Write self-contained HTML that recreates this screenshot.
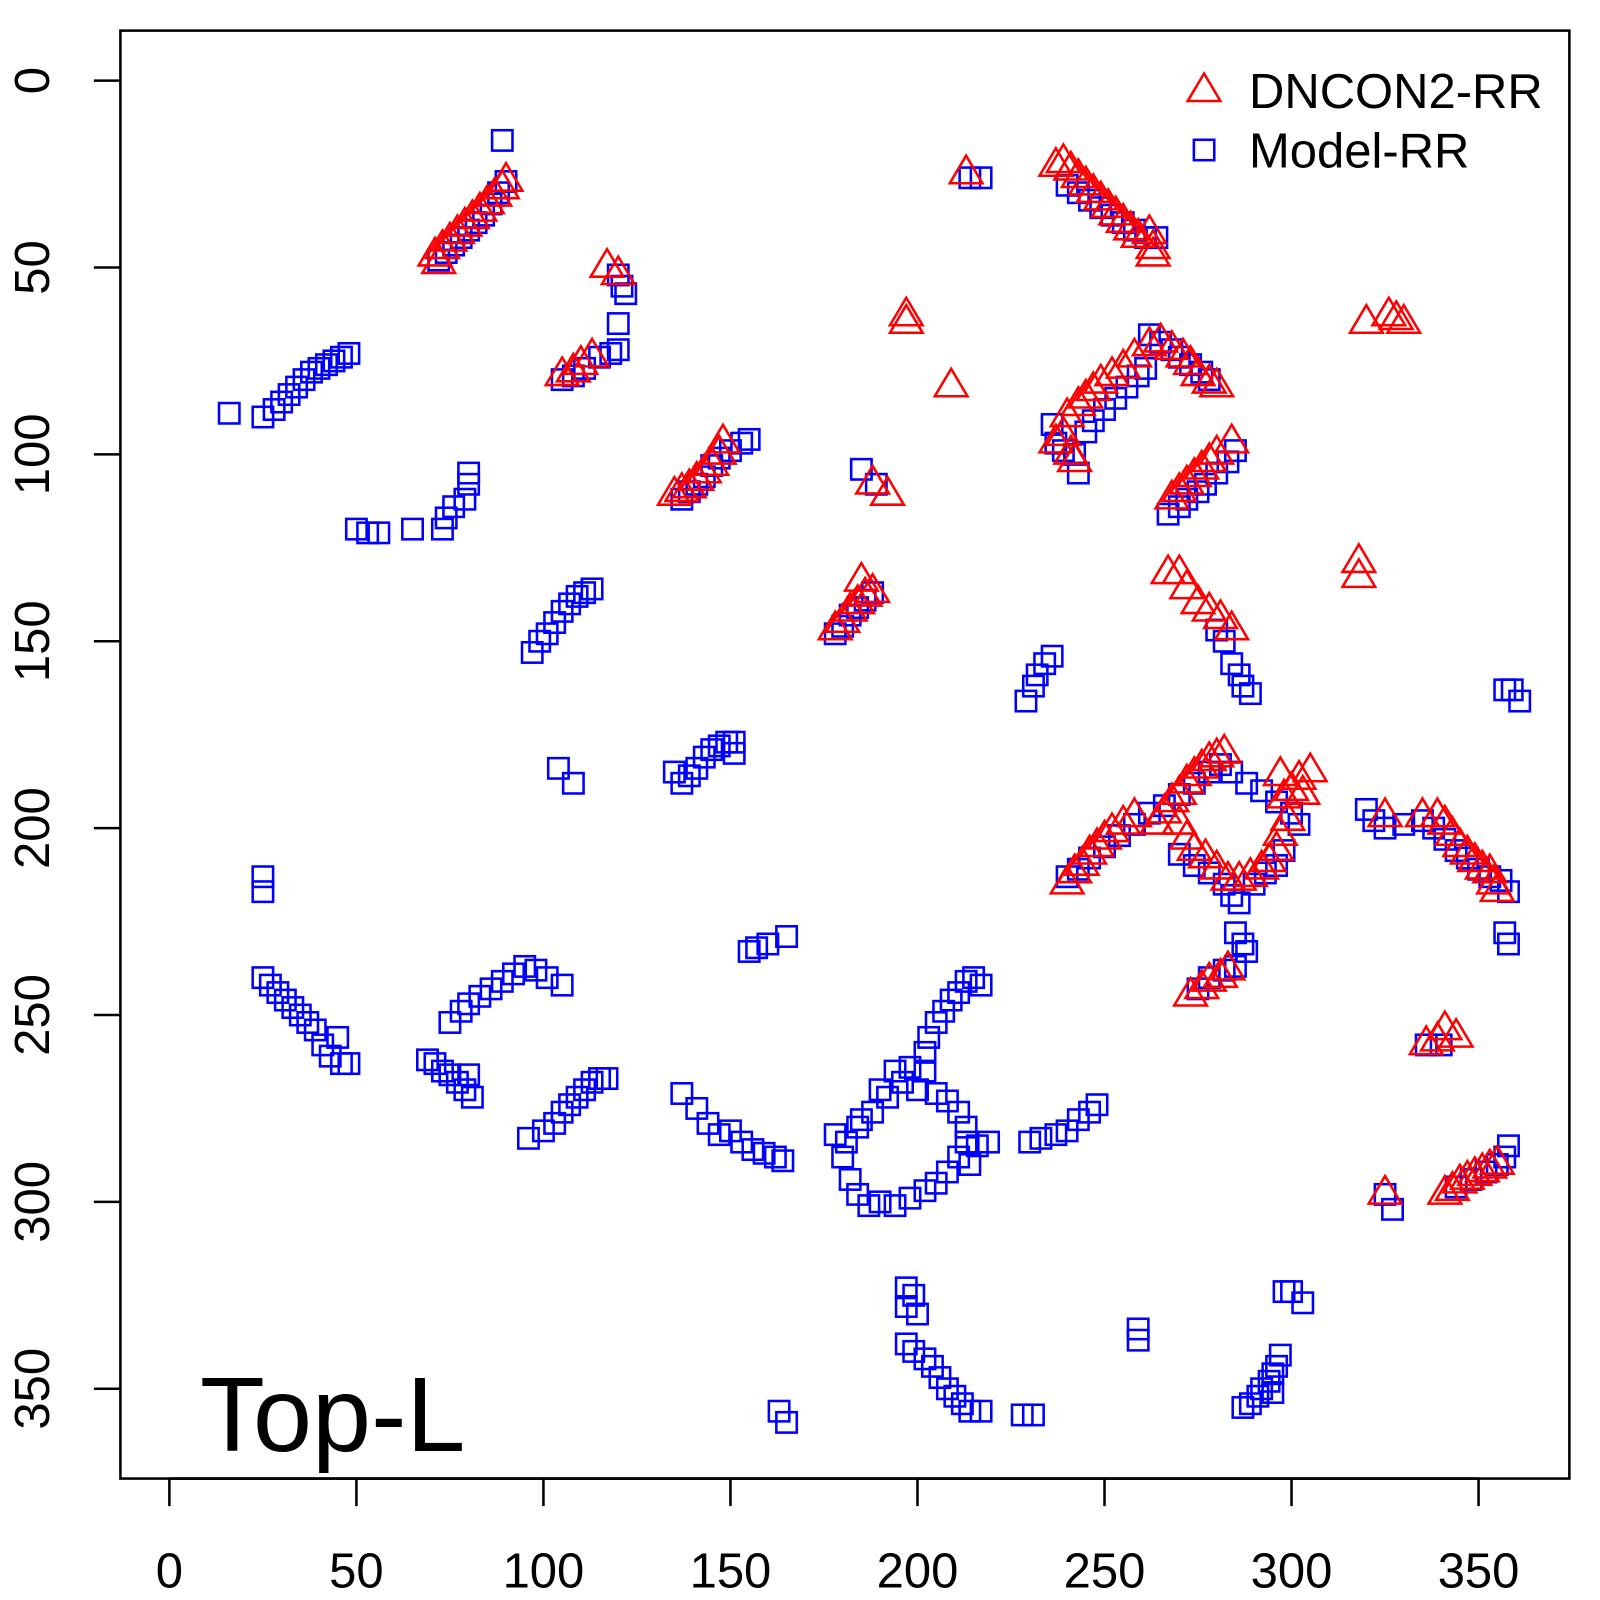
<!DOCTYPE html>
<html><head><meta charset="utf-8">
<style>html,body{margin:0;padding:0;background:#fff}svg{display:block}text{font-family:"Liberation Sans",sans-serif}</style>
</head><body>
<svg id="chart" width="1600" height="1600" xmlns="http://www.w3.org/2000/svg">
<rect x="0" y="0" width="1600" height="1600" fill="#fff"/>
<g transform="scale(1.0204)">
<g id="marks"></g>
<rect x="118" y="30" width="1420" height="1419" fill="none" stroke="#000" stroke-width="2.5"/>
<g id="axes"></g>
<g>
<polygon points="1164,99 1196,99 1180,72" fill="none" stroke="#ff0000" stroke-width="2.5"/>
<text x="1224" y="106" font-size="48">DNCON2-RR</text>
<rect x="1170" y="137" width="20" height="20" fill="none" stroke="#0000ff" stroke-width="2.5"/>
<text x="1224" y="164" font-size="48">Model-RR</text>
</g>
<text x="196" y="1422" font-size="104">Top-L</text>
</g>
</svg>
<script>
const xTicks=[0,50,100,150,200,250,300,350];
const yTicks=[0,50,100,150,200,250,300,350];
const blueX=[72,74,76,78,80,82,84,86,88,90,89,120,121,122,120,120,118,115,105,108,111,16,25,28,30,32,34,36,38,40,42,44,46,48,50,53,56,65,73,74,76,79,80,80,137,139,141,143,145,147,150,153,155,185,189,178,180,182,184,186,188,97,99,101,103,105,107,109,111,113,135,137,139,141,143,145,147,149,151,151,104,108,25,25,25,27,29,31,33,35,37,39,41,43,46,48,45,69,71,73,75,77,79,81,80,75,78,80,83,86,89,92,95,98,101,105,96,100,103,105,107,109,111,113,115,117,137,141,144,147,150,153,156,159,162,164,155,157,160,165,178,180,182,184,187,190,194,198,202,205,208,211,213,213,211,208,205,200,196,192,188,184,181,185,190,194,198,202,202,203,205,207,209,211,213,215,217,216,219,214,230,233,237,240,243,246,248,197,199,197,200,197,199,202,204,206,208,210,212,214,217,228,231,163,165,259,259,287,289,291,292,294,295,296,297,295,298,300,303,240,243,246,249,252,255,258,261,264,214,217,262,265,268,270,273,276,278,236,237,239,242,243,245,247,250,253,256,259,261,267,270,272,275,277,280,283,285,280,282,284,286,287,289,229,231,232,234,236,357,359,361,240,243,246,250,254,258,262,266,270,274,278,281,284,288,292,296,300,302,270,274,278,282,284,286,290,293,296,298,285,287,288,285,282,278,275,320,322,325,330,335,338,341,344,347,350,353,356,358,357,358,336,340,325,327,344,348,352,355,357,358];
const blueY=[48,46,44,42,40,38,36,33,30,27,16,52,55,57,65,72,73,74,80,79,77,89,90,88,86,84,82,80,78,77,76,75,74,73,120,121,121,120,120,117,114,112,108,105,112,110,108,106,103,101,99,97,96,104,108,148,146,143,141,139,137,153,150,148,145,142,140,138,137,136,185,188,186,184,181,179,178,177,177,180,184,188,213,217,240,242,244,246,248,250,252,254,258,261,263,263,256,262,263,265,266,268,270,272,266,252,249,247,245,243,241,239,237,238,240,242,283,281,279,276,274,272,270,268,267,267,271,275,279,282,281,284,286,287,288,289,233,232,231,229,282,288,294,298,301,300,301,299,297,295,292,288,284,280,276,273,271,270,268,272,276,280,284,278,270,265,264,265,260,256,252,249,246,244,241,240,242,285,284,290,284,283,282,281,278,276,274,323,325,328,330,338,340,342,344,347,350,352,354,356,356,357,357,356,359,334,337,355,354,352,350,348,346,344,341,351,324,324,327,28,30,32,34,36,38,40,42,42,26,26,68,70,72,74,76,78,80,92,97,99,100,105,94,91,88,85,82,79,77,116,114,112,110,108,105,102,99,147,150,156,159,162,164,166,162,159,156,154,163,163,166,213,211,208,205,202,199,196,194,191,188,185,183,185,188,190,193,196,199,207,210,212,215,218,220,215,212,210,206,228,231,233,237,238,240,243,195,198,200,199,198,200,203,206,208,211,213,214,217,228,231,258,258,298,302,296,294,292,290,288,285];
const redX=[71,73,75,77,79,81,83,85,87,89,90,72,117,120,105,108,110,113,197,197,209,213,237,239,241,243,245,247,249,251,253,255,257,259,262,263,263,320,326,328,330,137,139,141,143,145,147,148,135,188,192,178,180,182,184,186,188,185,237,239,241,242,240,243,245,247,249,252,255,258,262,265,268,271,273,275,278,280,268,270,272,274,276,278,280,284,267,270,272,275,278,281,284,318,318,240,242,244,246,248,250,252,255,258,264,266,268,270,272,274,276,278,280,282,270,272,274,277,280,283,286,289,292,294,296,297,299,298,300,302,305,297,303,273,276,278,281,283,325,335,339,341,343,345,347,349,351,353,354,355,336,339,341,344,325,341,343,345,347,349,351,353,355];
const redY=[47,45,43,41,39,37,35,33,31,29,27,49,50,52,79,78,76,74,63,65,82,25,23,22,24,26,28,30,32,34,36,38,40,42,41,45,47,65,63,64,65,110,109,107,105,103,100,97,111,108,111,147,145,142,140,138,137,134,97,95,100,102,90,87,85,83,81,79,77,74,71,70,72,74,76,79,81,82,112,110,108,106,104,102,100,97,132,132,136,140,142,144,147,129,133,215,212,210,207,205,203,201,199,197,199,196,193,191,188,186,184,182,181,180,199,203,206,208,211,214,214,213,211,209,206,202,198,192,190,187,185,186,191,245,243,241,240,238,197,197,197,199,202,205,207,209,211,212,215,217,258,257,254,256,298,298,297,295,294,293,292,291,290];
const NS='http://www.w3.org/2000/svg';
function sx(v){return 166+v*(1449-166)/350;}
function sy(v){return 79+v*(1361-79)/350;}
const marks=document.getElementById('marks');
const axes=document.getElementById('axes');
for(let i=0;i<blueX.length;i++){
 const r=document.createElementNS(NS,'rect');
 r.setAttribute('x',sx(blueX[i])-10);r.setAttribute('y',sy(blueY[i])-10);
 r.setAttribute('width',20);r.setAttribute('height',20);
 r.setAttribute('fill','none');r.setAttribute('stroke','#0000ff');r.setAttribute('stroke-width','2.5');
 
 
 marks.appendChild(r);
}
for(let i=0;i<redX.length;i++){
 const cx=sx(redX[i]),cy=sy(redY[i]);
 const p=document.createElementNS(NS,'polygon');
 p.setAttribute('points',`${cx-16},${cy+9} ${cx+16},${cy+9} ${cx},${cy-18}`);
 p.setAttribute('fill','none');p.setAttribute('stroke','#ff0000');p.setAttribute('stroke-width','2.5');
 
 
 marks.appendChild(p);
}
let a=document.createElementNS(NS,'line');
a.setAttribute('x1',sx(xTicks[0]));a.setAttribute('x2',sx(xTicks[xTicks.length-1]));a.setAttribute('y1',1449);a.setAttribute('y2',1449);a.setAttribute('stroke','#000');a.setAttribute('stroke-width','2.5');
axes.appendChild(a);
xTicks.forEach(t=>{
 const l=document.createElementNS(NS,'line');
 l.setAttribute('x1',sx(t));l.setAttribute('x2',sx(t));l.setAttribute('y1',1449);l.setAttribute('y2',1476);l.setAttribute('stroke','#000');l.setAttribute('stroke-width','2.5');
 
 
 axes.appendChild(l);
 const tx=document.createElementNS(NS,'text');
 tx.setAttribute('x',sx(t));tx.setAttribute('y',1556);tx.setAttribute('font-size','48');tx.setAttribute('text-anchor','middle');
 tx.textContent=t;
 
 
 axes.appendChild(tx);
});
yTicks.forEach(t=>{
 const l=document.createElementNS(NS,'line');
 l.setAttribute('x1',92);l.setAttribute('x2',118);l.setAttribute('y1',sy(t));l.setAttribute('y2',sy(t));l.setAttribute('stroke','#000');l.setAttribute('stroke-width','2.5');
 
 
 axes.appendChild(l);
 const tx=document.createElementNS(NS,'text');
 tx.setAttribute('x',0);tx.setAttribute('y',0);tx.setAttribute('font-size','48');tx.setAttribute('text-anchor','middle');
 tx.setAttribute('transform',`translate(48,${sy(t)}) rotate(-90)`);
 tx.textContent=t;
 
 
 axes.appendChild(tx);
});
</script>
</body></html>
